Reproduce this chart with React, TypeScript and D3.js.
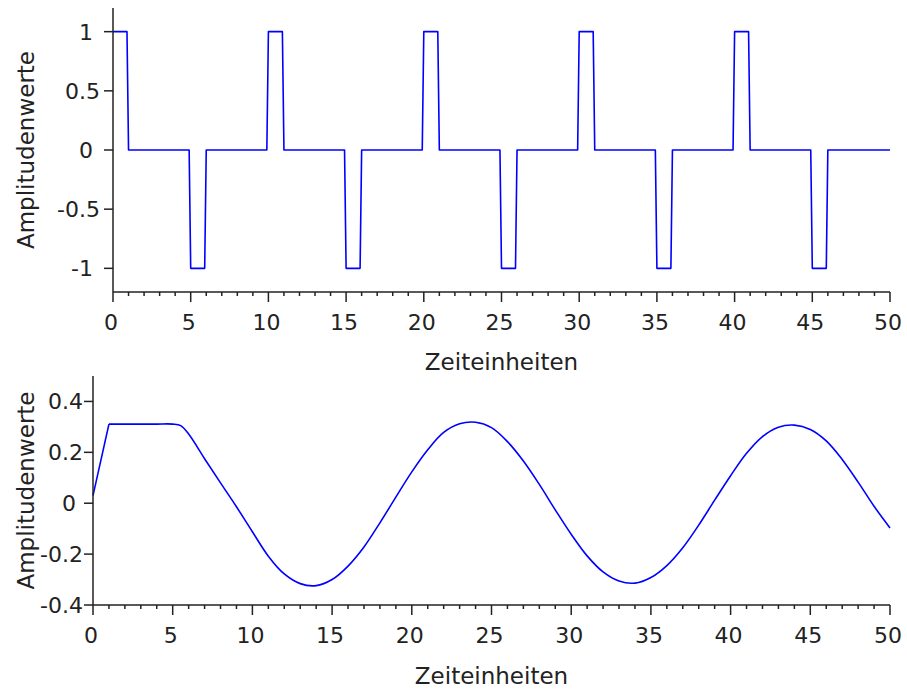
import React from "react";
import * as d3 from "d3";

// Top panel: input pulse signal (corner points)
const pulseTime = [
  0, 0.9, 1, 4.9, 5, 5.9, 6, 9.9, 10, 10.9, 11, 14.9, 15, 15.9, 16, 19.9, 20,
  20.9, 21, 24.9, 25, 25.9, 26, 29.9, 30, 30.9, 31, 34.9, 35, 35.9, 36, 39.9,
  40, 40.9, 41, 44.9, 45, 45.9, 46, 50,
];
const pulseAmp = [
  1, 1, 0, 0, -1, -1, 0, 0, 1, 1, 0, 0, -1, -1, 0, 0, 1, 1, 0, 0, -1, -1, 0, 0,
  1, 1, 0, 0, -1, -1, 0, 0, 1, 1, 0, 0, -1, -1, 0, 0,
];

// Bottom panel: filtered output
const outTime = [
  0, 1, 2, 3, 4, 5, 5.5, 6, 7, 8, 9, 10, 11, 12, 13, 14, 15, 16, 17, 18, 19,
  20, 21, 22, 23, 24, 25, 26, 27, 28, 29, 30, 31, 32, 33, 34, 35, 36, 37, 38,
  39, 40, 41, 42, 43, 44, 45, 46, 47, 48, 49, 50,
];
const outAmp = [
  0.03, 0.311, 0.311, 0.311, 0.311, 0.311, 0.305, 0.272, 0.175, 0.08, -0.014,
  -0.112, -0.208, -0.278, -0.316, -0.324, -0.3, -0.247, -0.172, -0.077, 0.024,
  0.123, 0.21, 0.278, 0.312, 0.318, 0.297, 0.242, 0.166, 0.074, -0.026, -0.122,
  -0.207, -0.27, -0.306, -0.314, -0.292, -0.245, -0.175, -0.086, 0.012, 0.108,
  0.196, 0.262, 0.299, 0.307, 0.29, 0.245, 0.172, 0.083, -0.012, -0.097,
];

const xTicks = [0, 5, 10, 15, 20, 25, 30, 35, 40, 45, 50];
const xMinorTicks = d3.range(0, 51);
const topYTicks = [1, 0.5, 0, -0.5, -1];
const bottomYTicks = [0.4, 0.2, 0, -0.2, -0.4];

const xLabel = "Zeiteinheiten";
const yLabel = "Amplitudenwerte";

const FONT = "DejaVu Sans, sans-serif";
const AXIS = "#222";

type PanelProps = {
  left: number;
  right: number;
  top: number;
  bottom: number;
  yDomain: [number, number];
  yTicks: number[];
  xs: number[];
  ys: number[];
  splitAt?: number;
  labelGap: number;
  xLabelY: number;
};

const Panel = ({ left, right, top, bottom, yDomain, yTicks, xs, ys, splitAt, labelGap, xLabelY }: PanelProps) => {
  const x = d3.scaleLinear().domain([0, 50]).range([left, right]);
  const y = d3.scaleLinear().domain(yDomain).range([bottom, top]);
  const pts = xs.map((t, i) => [t, ys[i]] as [number, number]);
  const line = d3
    .line<[number, number]>()
    .x((d) => x(d[0]))
    .y((d) => y(d[1]))
    .curve(splitAt === undefined ? d3.curveLinear : d3.curveCatmullRom.alpha(0.5));
  // smooth part starts after the straight ramp
  const pieces = splitAt === undefined ? [pts] : [pts.slice(0, splitAt + 1), pts.slice(splitAt)];

  return (
    <g>
      {pieces.map((p, i) => (
        <path key={i} d={line(p) || ""} fill="none" stroke="#0000ff" strokeWidth={1.6} strokeLinejoin="round" />
      ))}
      {/* axes */}
      <line x1={left} x2={left} y1={top} y2={bottom} stroke={AXIS} strokeWidth={1.5} />
      <line x1={left} x2={right} y1={bottom} y2={bottom} stroke={AXIS} strokeWidth={1.5} />
      {xMinorTicks.map((t) => (
        <line key={"m" + t} x1={x(t)} x2={x(t)} y1={bottom} y2={bottom + (t % 5 === 0 ? 10 : 4)} stroke={AXIS} strokeWidth={1.5} />
      ))}
      {xTicks.map((t) => (
        <text key={"xt" + t} x={x(t) - 2} y={bottom + 38} textAnchor="middle" fontFamily={FONT} fontSize={22} fill={AXIS}>
          {t}
        </text>
      ))}
      {yTicks.map((t) => (
        <g key={"yt" + t}>
          <line x1={left - 9} x2={left} y1={y(t)} y2={y(t)} stroke={AXIS} strokeWidth={1.5} />
          <text
            x={left - labelGap - (Number.isInteger(t) ? 7 : 0)}
            y={y(t)}
            dy="0.36em"
            textAnchor="end"
            fontFamily={FONT}
            fontSize={22}
            fill={AXIS}
          >
            {t}
          </text>
        </g>
      ))}
      <text x={(left + right) / 2} y={xLabelY} textAnchor="middle" fontFamily={FONT} fontSize={23} fill={AXIS}>
        {xLabel}
      </text>
      <text
        transform={`translate(${26},${(top + bottom) / 2}) rotate(-90)`}
        dy="0.36em"
        textAnchor="middle"
        fontFamily={FONT}
        fontSize={23}
        fill={AXIS}
      >
        {yLabel}
      </text>
    </g>
  );
};

export default function App() {
  return (
    <svg width={907} height={693} style={{ position: "absolute", left: 0, top: 0, background: "#fff" }}>
      <Panel
        left={113}
        right={890}
        top={8}
        bottom={292}
        yDomain={[-1.2, 1.2]}
        yTicks={topYTicks}
        xs={pulseTime}
        ys={pulseAmp}
        labelGap={13}
        xLabelY={370}
      />
      <Panel
        left={93}
        right={890}
        top={376}
        bottom={605}
        yDomain={[-0.4, 0.5]}
        yTicks={bottomYTicks}
        xs={outTime}
        ys={outAmp}
        splitAt={1}
        labelGap={10}
        xLabelY={684}
      />
    </svg>
  );
}
